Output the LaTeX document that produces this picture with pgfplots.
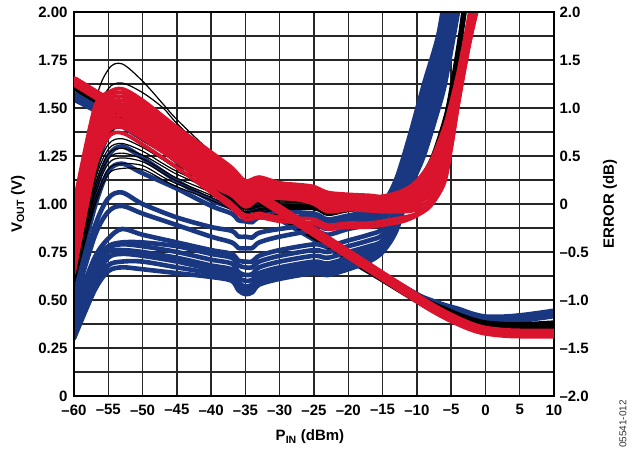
\documentclass[border=0pt]{standalone}
\usepackage{fontspec}
\setmainfont{Liberation Sans}
\usepackage{pgfplots}
\usepackage{pgfplotstable}
\pgfplotsset{compat=1.18}
\definecolor{adiblue}{RGB}{26,56,130}
\definecolor{adired}{RGB}{218,20,44}

% VOUT (V) for the three temperatures
\pgfplotstableread{
x     red    blk    blu
-60   1.640  1.620  1.560
-55   1.530  1.515  1.465
-50   1.420  1.400  1.355
-45   1.310  1.285  1.250
-40   1.200  1.175  1.145
-35   1.085  1.062  1.040
-30   0.970  0.952  0.935
-25   0.855  0.842  0.830
-20   0.740  0.731  0.725
-15   0.625  0.620  0.620
-10   0.510  0.510  0.515
-8    0.465  0.470  0.485
-6    0.425  0.440  0.460
-4    0.390  0.410  0.440
-2    0.360  0.385  0.415
0     0.340  0.368  0.400
3     0.328  0.360  0.400
6     0.325  0.360  0.410
10    0.325  0.368  0.430
}\vouttab

% error (dB), blue curves
\pgfplotstableread{
x   a     b     c     d     e     f     g     h     i     j     k     l
-60 -0.76 -0.84 -0.90 -1.00 -1.04 -1.10 -1.16 -1.20 -1.28 -1.32 -1.36 -1.40
-57 0.30  0.10  -0.04 -0.24 -0.34 -0.56 -0.60 -0.66 -0.72 -0.80 -0.86 -0.90
-55 0.72  0.50  0.34  0.06  -0.08 -0.36 -0.44 -0.46 -0.50 -0.56 -0.64 -0.70
-53 0.84  0.60  0.42  0.12  -0.02 -0.26 -0.40 -0.42 -0.48 -0.52 -0.60 -0.66
-50 0.76  0.48  0.32  0.00  -0.10 -0.32 -0.40 -0.44 -0.50 -0.54 -0.60 -0.68
-45 0.44  0.24  0.16  -0.14 -0.22 -0.40 -0.44 -0.50 -0.56 -0.60 -0.66 -0.72
-40 0.20  0.04  -0.02 -0.24 -0.34 -0.48 -0.52 -0.58 -0.64 -0.68 -0.72 -0.76
-37 0.06  -0.04 -0.10 -0.28 -0.40 -0.52 -0.56 -0.62 -0.68 -0.72 -0.76 -0.80
-36 -0.02 -0.10 -0.17 -0.34 -0.46 -0.59 -0.64 -0.71 -0.77 -0.82 -0.86 -0.90
-35 -0.04 -0.10 -0.18 -0.34 -0.46 -0.60 -0.66 -0.74 -0.80 -0.86 -0.90 -0.94
-34 -0.06 -0.12 -0.19 -0.35 -0.46 -0.60 -0.66 -0.73 -0.79 -0.84 -0.88 -0.92
-33 -0.02 -0.08 -0.14 -0.30 -0.40 -0.54 -0.60 -0.66 -0.72 -0.76 -0.80 -0.84
-30 -0.02 -0.08 -0.14 -0.26 -0.34 -0.48 -0.54 -0.60 -0.66 -0.70 -0.74 -0.78
-25 -0.04 -0.10 -0.14 -0.22 -0.28 -0.42 -0.48 -0.54 -0.60 -0.64 -0.68 -0.72
-23 -0.08 -0.16 -0.20 -0.26 -0.32 -0.44 -0.50 -0.56 -0.62 -0.66 -0.70 -0.74
-20 -0.04 -0.12 -0.16 -0.20 -0.26 -0.38 -0.44 -0.50 -0.56 -0.60 -0.64 -0.68
-17 -0.02 -0.08 -0.12 -0.16 -0.22 -0.32 -0.38 -0.44 -0.48 -0.52 -0.56 -0.60
-15 0.00  -0.06 -0.10 -0.14 -0.18 -0.26 -0.32 -0.38 -0.42 -0.46 -0.48 -0.50
-13 0.26  0.20  0.14  0.10  0.06  -0.04 -0.08 -0.12 -0.16 -0.20 -0.24 -0.28
-11 0.72  0.66  0.60  0.54  0.50  0.40  0.34  0.28  0.24  0.20  0.18  0.16
-9  1.24  1.16  1.10  1.04  1.00  0.88  0.80  0.72  0.64  0.56  0.52  0.50
-7  1.72  1.64  1.60  1.54  1.50  1.40  1.30  1.22  1.14  1.04  0.98  0.96
-6  2.10  2.00  1.94  1.88  1.84  1.72  1.60  1.52  1.44  1.32  1.24  1.22
-5  2.40  2.30  2.24  2.20  2.16  2.04  1.96  1.88  1.80  1.70  1.64  1.60
-4  2.60  2.60  2.60  2.60  2.50  2.40  2.30  2.24  2.20  2.10  2.04  2.00
}\bluetab

% error (dB), black curves
\pgfplotstableread{
x   K1    K2    k0    k1    k2    k3    k4    k5    k6    k7    k8    k9
-60 -0.56 -0.60 -0.56 -0.59 -0.62 -0.65 -0.68 -0.72 -0.75 -0.78 -0.81 -0.84
-57 1.00  0.84  0.44  0.39  0.34  0.28  0.23  0.18  0.13  0.08  0.02  -0.03
-55 1.40  1.20  0.78  0.73  0.68  0.62  0.57  0.52  0.47  0.42  0.36  0.31
-53 1.46  1.26  0.84  0.79  0.74  0.68  0.63  0.58  0.53  0.48  0.42  0.37
-50 1.28  1.16  0.70  0.66  0.63  0.59  0.55  0.51  0.47  0.44  0.40  0.36
-47 1.04  1.00  0.56  0.53  0.49  0.46  0.42  0.39  0.35  0.32  0.28  0.25
-45 0.88  0.84  0.46  0.43  0.40  0.37  0.34  0.31  0.27  0.24  0.21  0.18
-40 0.54  0.50  0.28  0.25  0.23  0.20  0.17  0.15  0.12  0.09  0.07  0.04
-37 0.38  0.34  0.12  0.10  0.08  0.06  0.04  0.02  0.00  -0.02 -0.04 -0.06
-35 0.24  0.20  0.00  -0.02 -0.03 -0.05 -0.06 -0.08 -0.09 -0.11 -0.12 -0.14
-33 0.24  0.20  0.02  0.01  -0.01 -0.02 -0.03 -0.05 -0.06 -0.07 -0.09 -0.10
-30 0.16  0.14  0.04  0.03  0.02  0.01  -0.01 -0.02 -0.03 -0.04 -0.05 -0.06
-25 0.12  0.10  0.04  0.03  0.02  0.01  -0.01 -0.02 -0.03 -0.04 -0.05 -0.06
-23 0.06  0.04  -0.02 -0.03 -0.04 -0.05 -0.07 -0.08 -0.09 -0.10 -0.11 -0.12
-20 0.06  0.04  0.02  0.01  0.00  -0.01 -0.03 -0.04 -0.05 -0.06 -0.07 -0.08
-15 0.06  0.04  0.04  0.03  0.02  0.01  0.00  -0.01 -0.01 -0.02 -0.03 -0.04
-12 0.10  0.08  0.10  0.09  0.09  0.08  0.07  0.07  0.06  0.05  0.05  0.04
-10 0.20  0.16  0.24  0.23  0.21  0.20  0.19  0.17  0.16  0.15  0.13  0.12
-8  0.40  0.34  0.48  0.46  0.44  0.41  0.39  0.37  0.35  0.33  0.30  0.28
-6  0.80  0.74  0.92  0.89  0.87  0.84  0.81  0.79  0.76  0.73  0.71  0.68
-5  1.15  1.08  1.28  1.25  1.22  1.19  1.16  1.13  1.09  1.06  1.03  1.00
-4  1.56  1.50  1.72  1.68  1.65  1.61  1.58  1.54  1.51  1.47  1.44  1.40
-3  2.05  1.98  2.20  2.17  2.13  2.10  2.07  2.03  2.00  1.97  1.93  1.90
-2  2.40  2.40  2.40  2.40  2.40  2.40  2.40  2.40  2.40  2.40  2.40  2.40
}\blacktab

% error (dB), red curves
\pgfplotstableread{
x   r0    r1    r2    r3    r4    r5    r6    r7    r8    r9    R1    R2
-60 0.00  -0.07 -0.14 -0.21 -0.28 -0.35 -0.42 -0.49 -0.56 -0.63 -0.68 -0.72
-57 1.00  0.95  0.89  0.84  0.78  0.73  0.68  0.62  0.57  0.51  0.44  0.36
-55 1.16  1.12  1.08  1.04  1.00  0.96  0.92  0.88  0.84  0.80  0.76  0.70
-53 1.20  1.16  1.12  1.08  1.04  1.00  0.96  0.92  0.88  0.84  0.80  0.74
-50 1.08  1.04  1.00  0.96  0.92  0.88  0.84  0.80  0.76  0.72  0.68  0.62
-45 0.80  0.76  0.73  0.69  0.66  0.62  0.58  0.55  0.51  0.48  0.44  0.38
-40 0.54  0.50  0.46  0.43  0.39  0.35  0.31  0.27  0.24  0.20  0.16  0.12
-37 0.38  0.35  0.32  0.28  0.25  0.22  0.19  0.16  0.12  0.09  0.00  -0.04
-35 0.24  0.21  0.18  0.15  0.12  0.09  0.06  0.03  0.00  -0.03 -0.12 -0.16
-33 0.28  0.25  0.23  0.20  0.18  0.15  0.12  0.10  0.07  0.05  -0.10 -0.14
-30 0.22  0.20  0.18  0.17  0.15  0.13  0.11  0.09  0.08  0.06  -0.14 -0.18
-27 0.20  0.18  0.16  0.15  0.13  0.11  0.09  0.07  0.06  0.04  -0.15 -0.19
-25 0.18  0.16  0.14  0.12  0.10  0.08  0.06  0.04  0.02  0.00  -0.16 -0.20
-23 0.12  0.10  0.08  0.05  0.03  0.01  -0.01 -0.03 -0.06 -0.08 -0.22 -0.26
-20 0.10  0.08  0.06  0.05  0.03  0.01  -0.01 -0.03 -0.04 -0.06 -0.20 -0.24
-17 0.09  0.07  0.05  0.04  0.02  0.00  -0.02 -0.04 -0.05 -0.07 -0.20 -0.24
-15 0.08  0.06  0.04  0.03  0.01  -0.01 -0.03 -0.05 -0.06 -0.08 -0.18 -0.22
-12 0.14  0.12  0.09  0.07  0.04  0.02  -0.01 -0.03 -0.06 -0.08 -0.14 -0.18
-10 0.24  0.21  0.17  0.14  0.11  0.07  0.04  0.01  -0.03 -0.06 -0.10 -0.12
-8  0.44  0.39  0.34  0.29  0.24  0.20  0.15  0.10  0.05  0.00  0.00  -0.02
-6  0.80  0.74  0.68  0.61  0.55  0.49  0.43  0.36  0.30  0.24  0.24  0.22
-5  1.06  1.01  0.96  0.91  0.86  0.80  0.75  0.70  0.65  0.59  0.60  0.58
-4  1.36  1.32  1.29  1.25  1.22  1.18  1.15  1.11  1.08  1.04  1.04  1.02
-3  1.72  1.69  1.66  1.63  1.60  1.56  1.53  1.50  1.47  1.44  1.44  1.42
-2  2.10  2.07  2.03  2.00  1.97  1.93  1.90  1.87  1.83  1.80  1.80  1.78
-1  2.40  2.37  2.33  2.30  2.27  2.23  2.20  2.17  2.13  2.10  2.10  2.08
}\redtab

\begin{document}
\begin{tikzpicture}
\pgfplotsset{
  base/.style={scale only axis, width=480pt, height=384pt,
    at={(0pt,0pt)}, anchor=south west, xmin=-60, xmax=10, clip=true,
    axis line style={line width=1.8pt},
    ticklabel style={font=\fontsize{15}{15}\selectfont\bfseries},
    label style={font=\fontsize{15}{15}\selectfont\bfseries},
    major tick length=0pt, minor tick length=0pt,
    every axis plot/.append style={line join=round, line cap=round, smooth, tension=0.5}},
}
% left axis: grid, labels, blue/black VOUT
\begin{axis}[base, ymin=0, ymax=2,
  xtick={-60,-55,...,10},
  xticklabels={–60,–55,–50,–45,–40,–35,–30,–25,–20,–15,–10,–5,0,5,10},
  xticklabel style={yshift=-5pt},
  ytick={0,0.25,...,2.01},
  yticklabels={0,0.25,0.50,0.75,1.00,1.25,1.50,1.75,2.00},
  yticklabel style={xshift=-3pt},
  minor ytick={0.125,0.375,...,1.9},
  grid=both,
  major grid style={black!85, line width=1.3pt},
  minor grid style={black!85, line width=1.3pt},
  xlabel={P\textsubscript{IN} (dBm)},
  ylabel={V\textsubscript{OUT} (V)},
  xlabel style={at={(axis description cs:0.5,0)}, anchor=center, yshift=-41pt, xshift=-4pt},
  ylabel style={at={(axis description cs:0,0.5)}, anchor=center, yshift=56pt},
]
\addplot[adiblue, line width=10pt] table[x=x, y=blu]{\vouttab};
\addplot[black, line width=10pt] table[x=x, y=blk]{\vouttab};
\end{axis}
% right axis: error curves
\begin{axis}[base, ymin=-2, ymax=2,
  axis x line=none, axis y line*=right,
  ytick={-2,-1.5,...,2.01},
  yticklabels={–2.0,–1.5,–1.0,–0.5,0,0.5,1.0,1.5,2.0},
  yticklabel style={xshift=2pt},
  ylabel={ERROR (dB)},
  ylabel style={at={(axis description cs:1,0.5)}, anchor=center, yshift=-56pt},
]
\pgfplotsinvokeforeach{l,k,j,i,h,g,f,e,d,c,b,a}{
  \addplot[adiblue, line width=4.6pt] table[x=x, y=#1]{\bluetab};
}
\pgfplotsinvokeforeach{k9,k8,k7,k6,k5,k4,k3,k2,k1,k0,K2,K1}{
  \addplot[black, line width=1.2pt] table[x=x, y=#1]{\blacktab};
}
\pgfplotsinvokeforeach{R2,R1,r9,r8,r7,r6,r5,r4,r3,r2,r1,r0}{
  \addplot[adired, line width=3.8pt] table[x=x, y=#1]{\redtab};
}
\end{axis}
% top layer: red VOUT and frame
\begin{axis}[base, ymin=0, ymax=2, xtick=\empty, ytick=\empty]
\addplot[adired, line width=10pt] table[x=x, y=red]{\vouttab};
\end{axis}
\node[rotate=90, font=\fontsize{10}{10}\selectfont, text=black!80] at (549pt,-28pt) {05541-012};
\pgfresetboundingbox
\path[use as bounding box] (-74pt,-58pt) rectangle (561pt,396pt);
\end{tikzpicture}
\end{document}
